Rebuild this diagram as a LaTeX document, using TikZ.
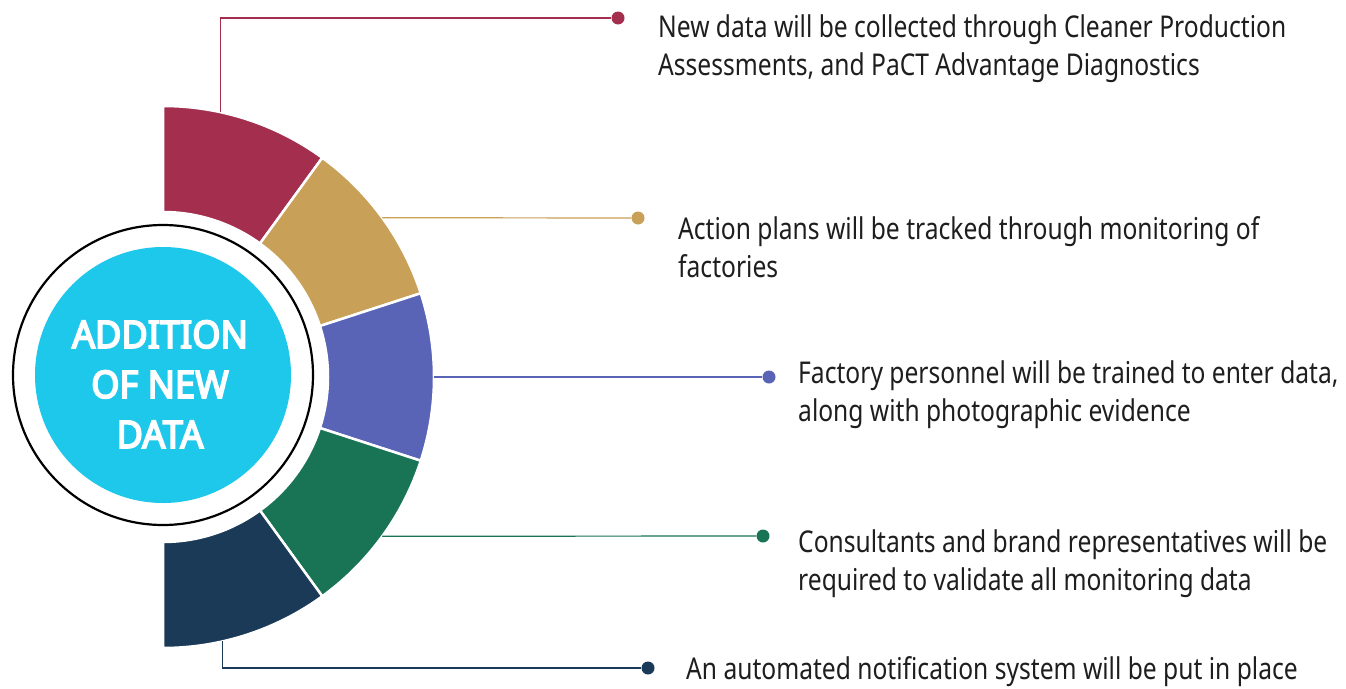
\documentclass[tikz,border=0pt]{standalone}
\usepackage{fontspec}
\usetikzlibrary{calc}
\newfontfamily\bodyfont[FakeStretch=0.82]{Noto Sans}
\newfontfamily\titlefont[FakeStretch=0.95, FakeBold=4.5]{Noto Sans}
\definecolor{cred}{RGB}{164,46,78}
\definecolor{cgold}{RGB}{201,160,88}
\definecolor{cblue}{RGB}{90,100,182}
\definecolor{cgreen}{RGB}{24,116,84}
\definecolor{cnavy}{RGB}{26,58,88}
\definecolor{ccyan}{RGB}{30,200,234}
\definecolor{txt}{RGB}{30,30,30}
\begin{document}
\begin{tikzpicture}[x=1pt,y=1pt,
  seg/.style={draw=white, line width=2.5pt},
  conn/.style={line width=1.2pt},
  dotnode/.style={circle, inner sep=0pt, minimum size=13pt},
  desc/.style={font=\bodyfont\fontsize{30}{38}\selectfont, align=left, anchor=base west, inner sep=0pt, text=txt}]
\useasboundingbox[fill=white] (0,0) rectangle (1346,-688);
\coordinate (c) at (163,-377);
\def\R{271}
\def\r{165}
% ring segments
\foreach \a/\b/\col in {90/54/cred, 54/18/cgold, 18/-18/cblue, -18/-54/cgreen, -54/-90/cnavy}{
  \filldraw[seg, fill=\col] ($(c)+(\a:\R)$) arc[start angle=\a, end angle=\b, radius=\R]
    -- ($(c)+(\b:\r)$) arc[start angle=\b, end angle=\a, radius=\r] -- cycle;
}
% centre
\node[circle, draw=black, line width=2.2pt, minimum size=300pt, inner sep=0pt] (ring) at (163,-375) {};
\node[circle, fill=ccyan, minimum size=256pt, inner sep=0pt] (hub) at (163,-375) {};
\node[font=\titlefont\fontsize{38}{50}\selectfont, text=white, align=center, inner sep=0pt, anchor=base] (title) at (160,-448) {ADDITION\\OF NEW\\DATA};
% anchor points on the ring
\coordinate (ra) at ($(c)+(77.8:\R)$);
\coordinate (ga) at ($(c)+(36:\R)$);
\coordinate (ba) at ($(c)+(0:\R)$);
\coordinate (ea) at ($(c)+(-36:\R)$);
\coordinate (na) at ($(c)+(-77.4:\R)$);
% dots
\node[dotnode, fill=cred] (rd) at (618,-18) {};
\node[dotnode, fill=cgold] (gd) at (638,-218) {};
\node[dotnode, fill=cblue] (bd) at (769,-377) {};
\node[dotnode, fill=cgreen] (ed) at (763,-536) {};
\node[dotnode, fill=cnavy] (nd) at (648,-668) {};
% connectors
\draw[conn, cred] (ra) |- (rd);
\draw[conn, cgold] (ga) -- (gd);
\draw[conn, cblue] (ba) -- (bd);
\draw[conn, cgreen] (ea) -- (ed);
\draw[conn, cnavy] (na) |- (nd);
% texts
\node[desc] (rt) at (658,-75) {New data will be collected through Cleaner Production\\Assessments, and PaCT Advantage Diagnostics};
\node[desc] (gt) at (678,-277) {Action plans will be tracked through monitoring of\\factories};
\node[desc] (bt) at (798,-421) {Factory personnel will be trained to enter data,\\along with photographic evidence};
\node[desc] (et) at (798,-590) {Consultants and brand representatives will be\\required to validate all monitoring data};
\node[desc] (nt) at (686,-679) {An automated notification system will be put in place};
\end{tikzpicture}
\end{document}
